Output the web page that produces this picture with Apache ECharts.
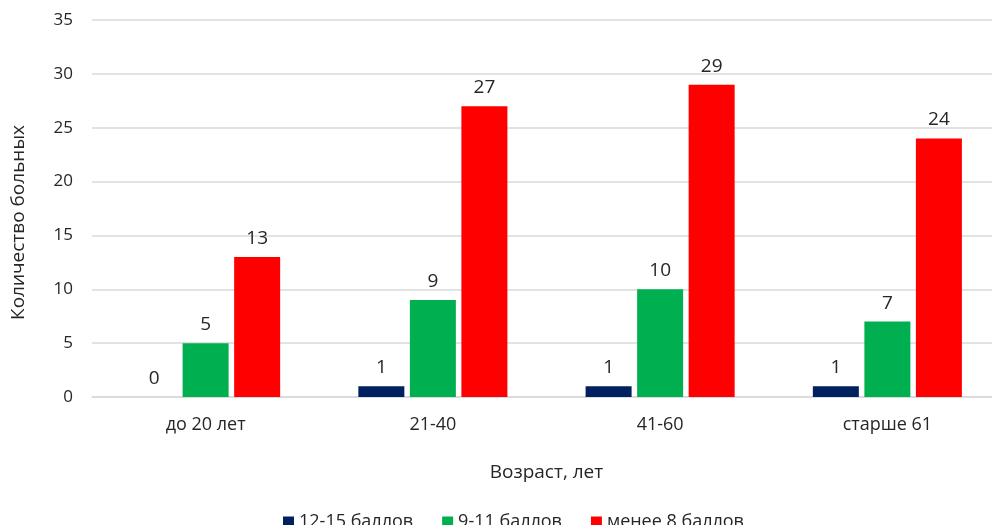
<!DOCTYPE html>
<html>
<head>
<meta charset="utf-8">
<script src="https://cdn.jsdelivr.net/npm/echarts@6/dist/echarts.min.js"></script>
<style>
  html, body { margin: 0; padding: 0; background: #ffffff; }
  #chart { width: 992px; height: 525px; }
</style>
</head>
<body>
<div id="chart"></div>
<script>
// Age groups and patient counts per score band
const categories = ['до 20 лет', '21-40', '41-60', 'старше 61'];
const seriesNames = ['12-15 баллов', '9-11 баллов', 'менее 8 баллов'];
const score12to15 = [0, 1, 1, 1];
const score9to11 = [5, 9, 10, 7];
const scoreBelow8 = [13, 27, 29, 24];
const colors = ['#002060', '#00B050', '#FF0000'];

const font = '"Open Sans", Lato, sans-serif';
const textColor = '#262626';

const chart = echarts.init(document.getElementById('chart'));

function barSeries(name, data, color) {
  return {
    name: name,
    type: 'bar',
    data: data,
    barWidth: 46,
    barGap: '12%',
    itemStyle: { color: color },
    label: {
      show: true,
      position: 'top',
      distance: 9,
      color: textColor,
      fontFamily: font,
      fontSize: 19
    }
  };
}

chart.setOption({
  backgroundColor: '#ffffff',
  animation: false,
  grid: { left: 92, right: -9, top: 20, bottom: 128, containLabel: false, outerBoundsMode: 'none' },
  legend: {
    left: 278,
    top: 508,
    itemWidth: 11,
    itemHeight: 11,
    itemGap: 29,
    icon: 'rect',
    textStyle: { color: textColor, fontFamily: font, fontSize: 18 },
    data: seriesNames
  },
  xAxis: {
    type: 'category',
    data: categories,
    name: 'Возраст, лет',
    nameLocation: 'middle',
    nameGap: 66,
    nameTextStyle: { color: textColor, fontFamily: font, fontSize: 19 },
    axisLine: { lineStyle: { color: '#d9d9d9', width: 1.5 } },
    axisTick: { show: false },
    axisLabel: { color: textColor, fontFamily: font, fontSize: 18, margin: 19 }
  },
  yAxis: {
    type: 'value',
    min: 0,
    max: 35,
    interval: 5,
    name: 'Количество больных',
    nameLocation: 'middle',
    nameGap: 64,
    nameRotate: 90,
    nameTextStyle: { color: textColor, fontFamily: font, fontSize: 19, padding: [0, 28, 0, 0] },
    axisLine: { show: false },
    axisTick: { show: false },
    splitLine: { lineStyle: { color: '#d9d9d9', width: 1.5 } },
    axisLabel: { color: textColor, fontFamily: font, fontSize: 17, margin: 19 }
  },
  series: [
    barSeries(seriesNames[0], score12to15, colors[0]),
    barSeries(seriesNames[1], score9to11, colors[1]),
    barSeries(seriesNames[2], scoreBelow8, colors[2])
  ]
});
</script>
</body>
</html>
